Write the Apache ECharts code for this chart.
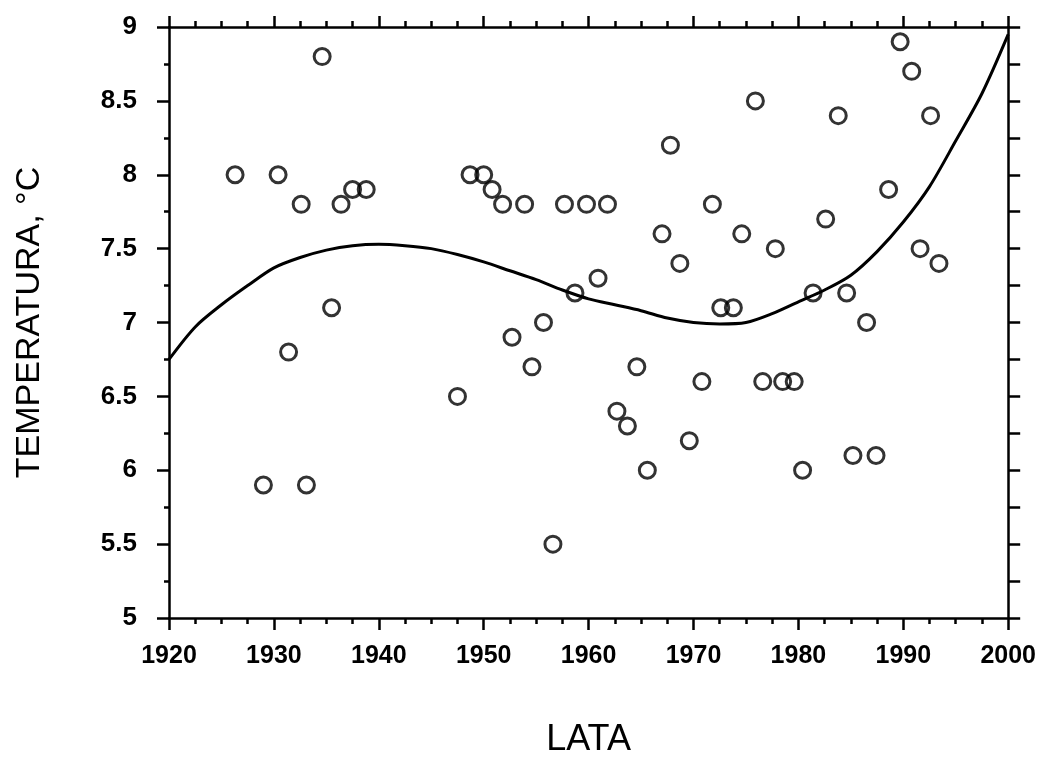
<!DOCTYPE html>
<html>
<head>
<meta charset="utf-8">
<script src="https://cdn.jsdelivr.net/npm/echarts@6/dist/echarts.min.js"></script>
<style>
    html, body { margin: 0; padding: 0; background: #fff; }
    #chart { width: 1039px; height: 763px; }
</style>
</head>
<body>
<div id="chart"></div>
<script>
    // pomiary: rok, temperatura
    var years = [1926.3, 1929.0, 1930.4, 1931.4, 1932.6, 1933.1, 1934.6, 1935.5, 1936.4, 1937.5,
        1938.8, 1947.5, 1948.7, 1950.0, 1950.8, 1951.8, 1952.7, 1953.9, 1954.6, 1955.7,
        1956.6, 1957.7, 1958.7, 1959.8, 1960.9, 1961.8, 1962.7, 1963.7, 1964.6, 1965.6,
        1967.0, 1967.8, 1968.7, 1969.6, 1970.8, 1971.8, 1972.6, 1973.8, 1974.6, 1975.9,
        1976.6, 1977.8, 1978.5, 1979.6, 1980.4, 1981.4, 1982.6, 1983.8, 1984.6, 1985.2,
        1986.5, 1987.4, 1988.6, 1989.7, 1990.8, 1991.6, 1992.6, 1993.4];
    var temps = [8.0, 5.9, 8.0, 6.8, 7.8, 5.9, 8.8, 7.1, 7.8, 7.9,
        7.9, 6.5, 8.0, 8.0, 7.9, 7.8, 6.9, 7.8, 6.7, 7.0,
        5.5, 7.8, 7.2, 7.8, 7.3, 7.8, 6.4, 6.3, 6.7, 6.0,
        7.6, 8.2, 7.4, 6.2, 6.6, 7.8, 7.1, 7.1, 7.6, 8.5,
        6.6, 7.5, 6.6, 6.6, 6.0, 7.2, 7.7, 8.4, 7.2, 6.1,
        7.0, 6.1, 7.9, 8.9, 8.7, 7.5, 8.4, 7.4];

    // krzywa trendu (co 2.5 roku)
    var trendYears = [1920, 1922.5, 1925, 1927.5, 1930, 1932.5, 1935, 1937.5, 1940, 1942.5,
        1945, 1947.5, 1950, 1952.5, 1955, 1957.5, 1960, 1962.5, 1965, 1967.5,
        1970, 1972.5, 1975, 1977.5, 1980, 1982.5, 1985, 1987.5, 1990, 1992.5,
        1995, 1997.5, 2000];
    var trendTemps = [6.75, 6.97, 7.12, 7.25, 7.37, 7.44, 7.49, 7.52, 7.53, 7.52,
        7.50, 7.46, 7.41, 7.35, 7.29, 7.22, 7.16, 7.12, 7.08, 7.03,
        7.00, 6.99, 7.00, 7.06, 7.14, 7.22, 7.32, 7.48, 7.68, 7.92,
        8.23, 8.55, 8.95];

    var points = years.map(function (y, i) { return [y, temps[i]]; });
    var trend = trendYears.map(function (y, i) { return [y, trendTemps[i]]; });

    var black = '#000';
    var chart = echarts.init(document.getElementById('chart'));

    var option = {
        backgroundColor: '#fff',
        animation: false,
        grid: { left: 169, right: 24, top: 27, bottom: 140 },
        xAxis: [
            {
                type: 'value', position: 'bottom', min: 1920, max: 2000, interval: 10,
                name: 'LATA', nameLocation: 'middle', nameGap: 104,
                nameTextStyle: { fontFamily: 'Liberation Sans', fontSize: 36, color: black },
                axisLine: { lineStyle: { color: black, width: 2.5 } },
                axisTick: { length: 12, lineStyle: { color: black, width: 2.5 } },
                minorTick: { show: true, splitNumber: 4, length: 6, lineStyle: { color: black, width: 2.5 } },
                axisLabel: {
                    margin: 26, fontFamily: 'Liberation Sans', fontWeight: 'bold', fontSize: 25, color: black,
                    formatter: function (v) { return String(v); }
                },
                splitLine: { show: false }
            },
            {
                type: 'value', position: 'top', min: 1920, max: 2000, interval: 10,
                axisLine: { lineStyle: { color: black, width: 2.5 } },
                axisTick: { length: 11, lineStyle: { color: black, width: 2.5 } },
                minorTick: { show: true, splitNumber: 4, length: 6, lineStyle: { color: black, width: 2.5 } },
                axisLabel: { show: false },
                splitLine: { show: false }
            }
        ],
        yAxis: [
            {
                type: 'value', position: 'left', min: 5, max: 9, interval: 0.5,
                name: 'TEMPERATURA, °C', nameLocation: 'middle', nameGap: 122, nameRotate: 90,
                nameTextStyle: { fontFamily: 'Liberation Sans', fontSize: 34, color: black },
                axisLine: { lineStyle: { color: black, width: 2.5 } },
                axisTick: { length: 12, lineStyle: { color: black, width: 2.5 } },
                minorTick: { show: true, splitNumber: 2, length: 5, lineStyle: { color: black, width: 2.5 } },
                axisLabel: { margin: 32, fontFamily: 'Liberation Sans', fontWeight: 'bold', fontSize: 26, color: black },
                splitLine: { show: false }
            },
            {
                type: 'value', position: 'right', min: 5, max: 9, interval: 0.25,
                axisLine: { lineStyle: { color: black, width: 2.5 } },
                axisTick: { length: 12, lineStyle: { color: black, width: 2.5 } },
                axisLabel: { show: false },
                splitLine: { show: false }
            }
        ],
        series: [
            {
                type: 'line',
                data: trend,
                smooth: 0.3,
                showSymbol: false,
                lineStyle: { color: black, width: 3 }
            },
            {
                type: 'scatter',
                data: points,
                symbol: 'circle',
                symbolSize: 16,
                itemStyle: { color: 'rgba(0,0,0,0)', borderColor: black, borderWidth: 3 }
            }
        ]
    };

    chart.setOption(option);
</script>
</body>
</html>
